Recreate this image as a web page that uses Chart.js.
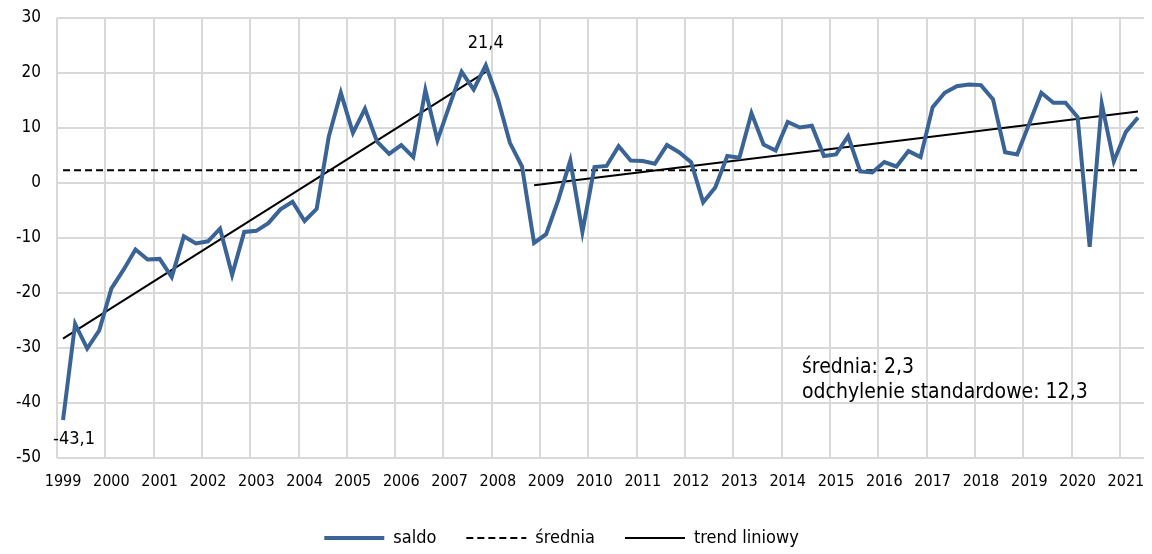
<!DOCTYPE html>
<html>
<head>
<meta charset="utf-8">
<script src="https://cdn.jsdelivr.net/npm/chart.js@4.4.1/dist/chart.umd.min.js"></script>
<style>
  html, body { margin: 0; padding: 0; background: #fff; }
  #wrap { width: 1152px; height: 554px; }
</style>
</head>
<body>
<div id="wrap"><canvas id="saldochart"></canvas></div>
<script>
// years shown on the axis, one category per quarter
const years = ['1999','2000','2001','2002','2003','2004','2005','2006','2007','2008','2009','2010',
  '2011','2012','2013','2014','2015','2016','2017','2018','2019','2020','2021']
const quarters = ['Q1','Q2','Q3','Q4']
const labels = years.flatMap(y => quarters.map(q => y + ' ' + q)).slice(0, 90)

// saldo, 1999 Q1 - 2021 Q2
const saldo = [
  -43.1, -25.6, -30.1, -26.8, -19.2, -15.8, -12.1, -13.9,
  -13.8, -17.1, -9.7, -11.0, -10.6, -8.3, -16.7, -8.9,
  -8.7, -7.3, -4.8, -3.4, -6.9, -4.7, 8.4, 16.4,
  9.1, 13.5, 7.5, 5.3, 6.9, 4.7, 16.9, 7.8,
  14.1, 20.2, 17.0, 21.4, 15.3, 7.3, 3.0, -10.9,
  -9.3, -3.1, 4.1, -8.9, 2.9, 3.1, 6.7, 4.1,
  4.0, 3.5, 6.9, 5.6, 3.8, -3.5, -0.8, 4.9,
  4.6, 12.7, 7.0, 5.9, 11.1, 10.1, 10.4, 4.9,
  5.2, 8.5, 2.1, 1.9, 3.8, 3.0, 5.8, 4.7,
  13.8, 16.4, 17.6, 17.9, 17.8, 15.2, 5.6, 5.2,
  10.8, 16.4, 14.6, 14.6, 12.0, -11.6, 14.4, 3.9,
  9.3, 11.9
]

const meanValue = 2.3
const stdValue = 12.3

// linear trends: [first quarter, last quarter] and their values
const trendUpRange = ['1999 Q1', '2007 Q4']
const trendUpValues = [-28.3, 20.2]
const trendFlatRange = ['2008 Q4', '2021 Q2']
const trendFlatValues = [-0.4, 13.0]

const fontFamily = "'DejaVu Sans Condensed', 'DejaVu Sans', sans-serif"
const fmt = v => v.toFixed(1).replace('.', ',')

const notesPlugin = {
  id: 'notes',
  afterLayout(chart) {
    // legend sits a bit left of centre in the original
    chart.legend.left -= 12
    chart.legend.right -= 12
  },
  afterDatasetsDraw(chart) {
    const {ctx, scales: {x, y}, chartArea} = chart
    ctx.save()
    ctx.font = '18px ' + fontFamily
    ctx.fillStyle = '#000'
    ctx.textBaseline = 'middle'

    // max / min labels
    const maxIdx = saldo.indexOf(Math.max(...saldo))
    const minIdx = saldo.indexOf(Math.min(...saldo))
    ctx.textAlign = 'center'
    ctx.fillText(fmt(saldo[maxIdx]), x.getPixelForValue(maxIdx), y.getPixelForValue(saldo[maxIdx]) - 22)
    ctx.textAlign = 'left'
    ctx.fillText(fmt(saldo[minIdx]), x.getPixelForValue(minIdx) - 10, y.getPixelForValue(saldo[minIdx]) + 19)

    // stats box
    ctx.font = '21px ' + fontFamily
    const tx = chartArea.right - 342
    ctx.fillText('średnia: ' + fmt(meanValue), tx, 368)
    ctx.fillText('odchylenie standardowe: ' + fmt(stdValue), tx, 393)
    ctx.restore()
  }
}

const ctx = document.getElementById('saldochart').getContext('2d')

new Chart(ctx, {
  type: 'line',
  data: {
    labels: labels,
    datasets: [
      {
        label: 'saldo',
        data: saldo,
        borderColor: '#3a6496',
        backgroundColor: '#3a6496',
        borderWidth: 4,
        pointRadius: 0,
        tension: 0
      },
      {
        label: 'średnia',
        data: [{x: labels[0], y: meanValue}, {x: labels[labels.length - 1], y: meanValue}],
        borderColor: '#000',
        backgroundColor: '#000',
        borderWidth: 2,
        borderDash: [7, 4],
        pointRadius: 0
      },
      {
        label: 'trend liniowy',
        data: trendUpRange.map((q, i) => ({x: q, y: trendUpValues[i]})),
        borderColor: '#000',
        backgroundColor: '#000',
        borderWidth: 2,
        pointRadius: 0
      },
      {
        label: 'trend2',
        data: trendFlatRange.map((q, i) => ({x: q, y: trendFlatValues[i]})),
        borderColor: '#000',
        backgroundColor: '#000',
        borderWidth: 2,
        pointRadius: 0
      }
    ]
  },
  options: {
    responsive: true,
    maintainAspectRatio: false,
    animation: false,
    layout: {
      padding: {top: 18, right: 5, left: 0, bottom: -3}
    },
    scales: {
      x: {
        type: 'category',
        offset: true,
        grid: {
          offset: true,
          drawTicks: false,
          lineWidth: 2,
          color: c => (c.index % 4 === 0 ? '#d9d9d9' : 'rgba(0,0,0,0)')
        },
        border: {display: false},
        ticks: {
          autoSkip: false,
          maxRotation: 0,
          minRotation: 0,
          padding: 14,
          color: '#000',
          font: {size: 16, family: fontFamily},
          callback: function (val) {
            const l = this.getLabelForValue(val)
            return l.endsWith('Q1') ? l.slice(0, 4) : ''
          }
        },
        afterFit: s => { s.height = 41 }
      },
      y: {
        min: -50,
        max: 30,
        grid: {
          drawTicks: false,
          lineWidth: 2,
          color: '#d9d9d9'
        },
        border: {display: false},
        ticks: {
          stepSize: 10,
          padding: 16,
          color: '#000',
          font: {size: 17, family: fontFamily}
        },
        afterFit: s => {
          s.width = 57
          s.paddingTop = 0
          s.paddingBottom = 0
        }
      }
    },
    plugins: {
      tooltip: {enabled: false},
      legend: {
        display: true,
        position: 'bottom',
        labels: {
          filter: item => item.text !== 'trend2',
          usePointStyle: true,
          pointStyle: 'line',
          pointStyleWidth: 60,
          padding: 30,
          color: '#000',
          font: {size: 18, family: fontFamily},
          generateLabels: chart => {
            const items = Chart.defaults.plugins.legend.labels.generateLabels(chart)
            items.forEach(it => {
              const ds = chart.data.datasets[it.datasetIndex]
              it.lineWidth = ds.borderWidth
              it.lineDash = ds.borderDash || []
              it.strokeStyle = ds.borderColor
            })
            return items
          }
        }
      }
    }
  },
  plugins: [notesPlugin]
})
</script>
</body>
</html>
